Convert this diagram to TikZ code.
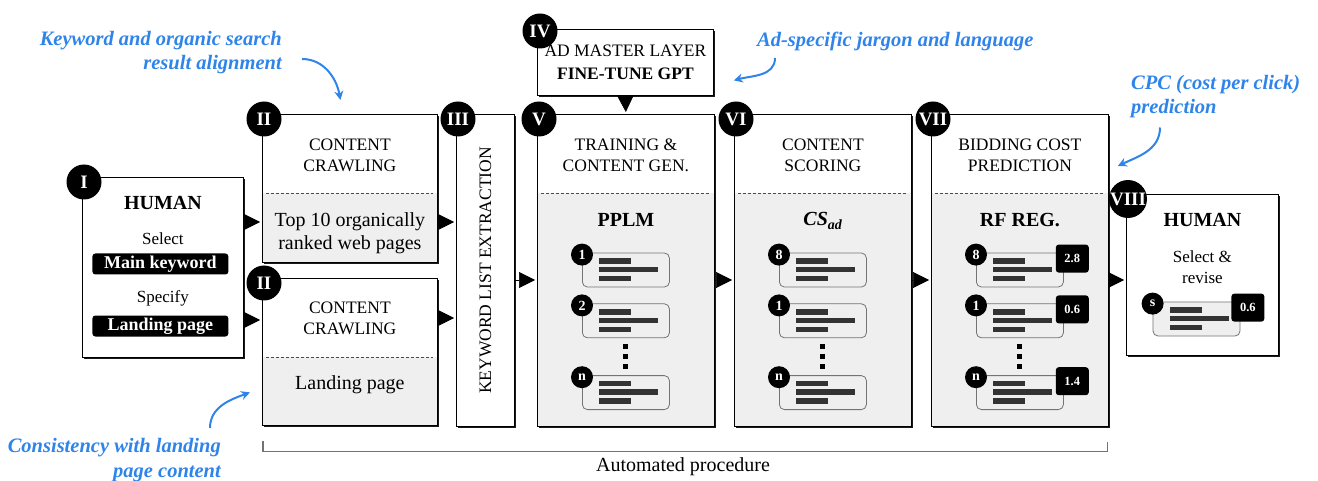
\documentclass[tikz,border=0pt]{standalone}
\usepackage{fontspec}
\setmainfont{Liberation Serif}
\usetikzlibrary{positioning,arrows.meta,shadows}
\definecolor{panel}{HTML}{EFEFEF}
\definecolor{note}{HTML}{2F84EA}
\definecolor{bar}{HTML}{333333}
\newcommand{\fs}[2]{\fontsize{#1}{#2}\selectfont}

\tikzset{
  box/.style={draw, line width=0.8pt, fill=white, inner sep=0pt, anchor=north west,
    drop shadow={shadow xshift=1.6pt, shadow yshift=-1.6pt, fill=black, opacity=0.9}},
  split/.style={path picture={
      \fill[panel, sharp corners] ([shift={(0,#1)}]path picture bounding box.north west)
        rectangle (path picture bounding box.south east);
      \draw[black!70, line width=0.7pt, dash pattern=on 3pt off 2pt]
        ([shift={(4,#1)}]path picture bounding box.north west) --
        ([shift={(-4,#1)}]path picture bounding box.north east);}},
  badge/.style={circle, fill=black, text=white, minimum size=35pt, inner sep=0pt,
    font=\fs{19}{20}\bfseries},
  heading/.style={align=center, inner sep=0pt, font=\fs{17.5}{20.5}},
  plain/.style={align=center, inner sep=0pt, font=\fs{20}{23}},
  strong/.style={align=center, inner sep=0pt, font=\fs{20}{23}\bfseries},
  small/.style={align=center, inner sep=0pt, font=\fs{17}{21}},
  tag/.style={fill=black, text=white, rounded corners=3pt, minimum width=136pt,
    minimum height=21pt, inner sep=0pt, font=\fs{18}{20}\bfseries},
  item/.style={draw=black!55, line width=0.8pt, fill=panel, rounded corners=5pt,
    minimum width=87pt, minimum height=34pt, inner sep=0pt,
    path picture={\foreach \y/\l in {8/32,16.5/59,25.5/32}
      \fill[bar, sharp corners] ([shift={(17,\y-2.75)}]path picture bounding box.north west)
        rectangle ++(\l,5.5);}},
  num/.style={circle, fill=black, text=white, minimum size=22pt, inner sep=0pt,
    font=\fs{14}{14}\bfseries},
  cost/.style={fill=black, text=white, rounded corners=3pt, minimum width=33pt,
    minimum height=28pt, inner sep=0pt, font=\fs{12.5}{13}\bfseries},
  flow/.style={-{Triangle[length=16pt,width=16pt]}, line width=0.6pt, shorten >=2pt},
  remark/.style={text=note, inner sep=0pt, font=\fs{20.5}{24.5}\bfseries\itshape},
  pointer/.style={draw=note, line width=2pt, -{Stealth[length=9pt,width=9pt]}},
  bracket/.style={draw=black!55, line width=1.2pt}
}

\begin{document}
\begin{tikzpicture}[x=1pt, y=-1pt]
\useasboundingbox (0,0) rectangle (1318,481);
  % Stages
  \node[box, minimum width=161pt, minimum height=180pt] (human1) at (82,177) {};
  \node[box, split=79, minimum width=175pt, minimum height=148pt] (crawl1) at (262,114) {};
  \node[box, split=79, minimum width=175pt, minimum height=147pt] (crawl2) at (262,278) {};
  \node[box, minimum width=58pt, minimum height=312pt] (kwx) at (456,114) {};
  \node[box, minimum width=176pt, minimum height=66pt] (master) at (537,29) {};
  \node[box, split=79, minimum width=177pt, minimum height=312pt] (gen) at (537,114) {};
  \node[box, split=79, minimum width=177pt, minimum height=312pt] (score) at (734,114) {};
  \node[box, split=79, minimum width=177pt, minimum height=312pt] (bid) at (931,114) {};
  \node[box, minimum width=152pt, minimum height=161pt] (human2) at (1126,194) {};
  % Step badges
  \foreach \b/\r in {human1/I,crawl1/II,crawl2/II,kwx/III,gen/V,score/VI,bid/VII,human2/VIII}
    \node[badge] at ([shift={(2,5)}]\b.north west) {\r};
  \node[badge] at ([shift={(3,2)}]master.north west) {IV};
  % Human input
  \node[strong] at ([shift={(0,26)}]human1.north) {HUMAN};
  \node[small] at ([shift={(0,62)}]human1.north) {Select};
  \node[tag] (kw) at ([shift={(-2.5,87)}]human1.north) {Main keyword};
  \node[small] at ([shift={(0,121)}]human1.north) {Specify};
  \node[tag] (lp) at ([shift={(-2.5,149)}]human1.north) {Landing page};
  % Crawling
  \node[heading] at ([shift={(0,41.5)}]crawl1.north) {CONTENT\\CRAWLING};
  \node[plain] at ([shift={(0,119.5)}]crawl1.north) {Top 10 organically\\ranked web pages};
  \node[heading] at ([shift={(0,40.5)}]crawl2.north) {CONTENT\\CRAWLING};
  \node[plain] at ([shift={(0,107)}]crawl2.north) {Landing page};
  \node[heading, rotate=90] at (kwx.center) {KEYWORD LIST EXTRACTION};
  \node[heading, font=\fs{17.5}{23}] at (master.center) {AD MASTER LAYER\\\textbf{FINE-TUNE GPT}};
  % Generation, scoring, bidding
  \node[heading] at ([shift={(0,41.5)}]gen.north) {TRAINING \&\\CONTENT GEN.};
  \node[strong] at ([shift={(0,106)}]gen.north) {PPLM};
  \node[heading] at ([shift={(0,41.5)}]score.north) {CONTENT\\SCORING};
  \node[strong] at ([shift={(0,107)}]score.north) {\textit{CS\textsubscript{ad}}};
  \node[heading] at ([shift={(0,41.5)}]bid.north) {BIDDING COST\\PREDICTION};
  \node[strong] at ([shift={(0,106)}]bid.north) {RF REG.};
  \foreach \s/\a/\b in {gen/1/2,score/8/1,bid/8/1}{
    \node[item] (\s1) at ([shift={(0,156)}]\s.north) {};
    \node[item, below=16pt of \s1] (\s2) {};
    \node[item, below=37pt of \s2] (\s3) {};
    \node[num] at ([shift={(0,2)}]\s1.north west) {\a};
    \node[num] at ([shift={(0,2)}]\s2.north west) {\b};
    \node[num] at ([shift={(0,2)}]\s3.north west) {n};
    \path (\s2.south) -- coordinate[pos=0.5] (\s-dots) (\s3.north);
    \foreach \d in {-10,0,10}
      \fill ([shift={(-2.5,\d-2.5)}]\s-dots) rectangle ++(5,5);
  }
  \node[cost] at ([shift={(8.5,6)}]bid1.north east) {2.8};
  \node[cost] at ([shift={(8.5,6)}]bid2.north east) {0.6};
  \node[cost] at ([shift={(8.5,6)}]bid3.north east) {1.4};
  % Final selection
  \node[strong] at ([shift={(0,26)}]human2.north) {HUMAN};
  \node[small] at ([shift={(0,73.5)}]human2.north) {Select \&\\revise};
  \node[item] (pick) at (1196.5,319) {};
  \node[num] at ([shift={(0,2)}]pick.north west) {s};
  \node[cost] at ([shift={(7.5,6)}]pick.north east) {0.6};
  % Flow
  \draw[flow] (human1.east |- 0,222) -- (crawl1.west |- 0,222);
  \draw[flow] (human1.east |- 0,320) -- (crawl2.west |- 0,320);
  \draw[flow] (crawl1.east |- 0,222) -- (kwx.west |- 0,222);
  \draw[flow] (crawl2.east |- 0,318) -- (kwx.west |- 0,318);
  \draw[flow] (kwx.east |- 0,280) -- (gen.west |- 0,280);
  \draw[flow] (gen.east |- 0,280) -- (score.west |- 0,280);
  \draw[flow] (score.east |- 0,280) -- (bid.west |- 0,280);
  \draw[flow] (bid.east |- 0,280) -- (human2.west |- 0,280);
  \draw[flow] (master.south) -- (gen.north);
  % Automated part
  \draw[bracket] ([shift={(1,15)}]crawl2.south west) |- ([shift={(-1,25)}]bid.south east) -- ++(0,-10);
  \node[plain] (auto) at (683,467) {Automated procedure};
  % Notes
  \node[remark, align=right, anchor=east] (n1) at (282,52.5) {Keyword and organic search\\result alignment};
  \draw[pointer] ([shift={(20,6.5)}]n1.east) to[out=0, in=100] ([shift={(-9.5,-14)}]crawl1.north);
  \node[remark, anchor=west] (n2) at (757,41) {Ad-specific jargon and language};
  \draw[pointer] ([shift={(18,17)}]n2.west) to[out=-90, in=15] ([shift={(20,18)}]master.east);
  \node[remark, align=left, anchor=west] (n3) at (1131,96.5) {CPC (cost per click)\\prediction};
  \draw[pointer] ([shift={(29,31)}]n3.west) to[out=-90, in=25] ([shift={(9,52)}]bid.north east);
  \node[remark, align=right, anchor=east] (n4) at (221,460) {Consistency with landing\\page content};
  \draw[pointer] ([shift={(-11,-32)}]n4.east) to[out=90, in=200] ([shift={(-12,40.5)}]crawl2.west);
\end{tikzpicture}
\end{document}
